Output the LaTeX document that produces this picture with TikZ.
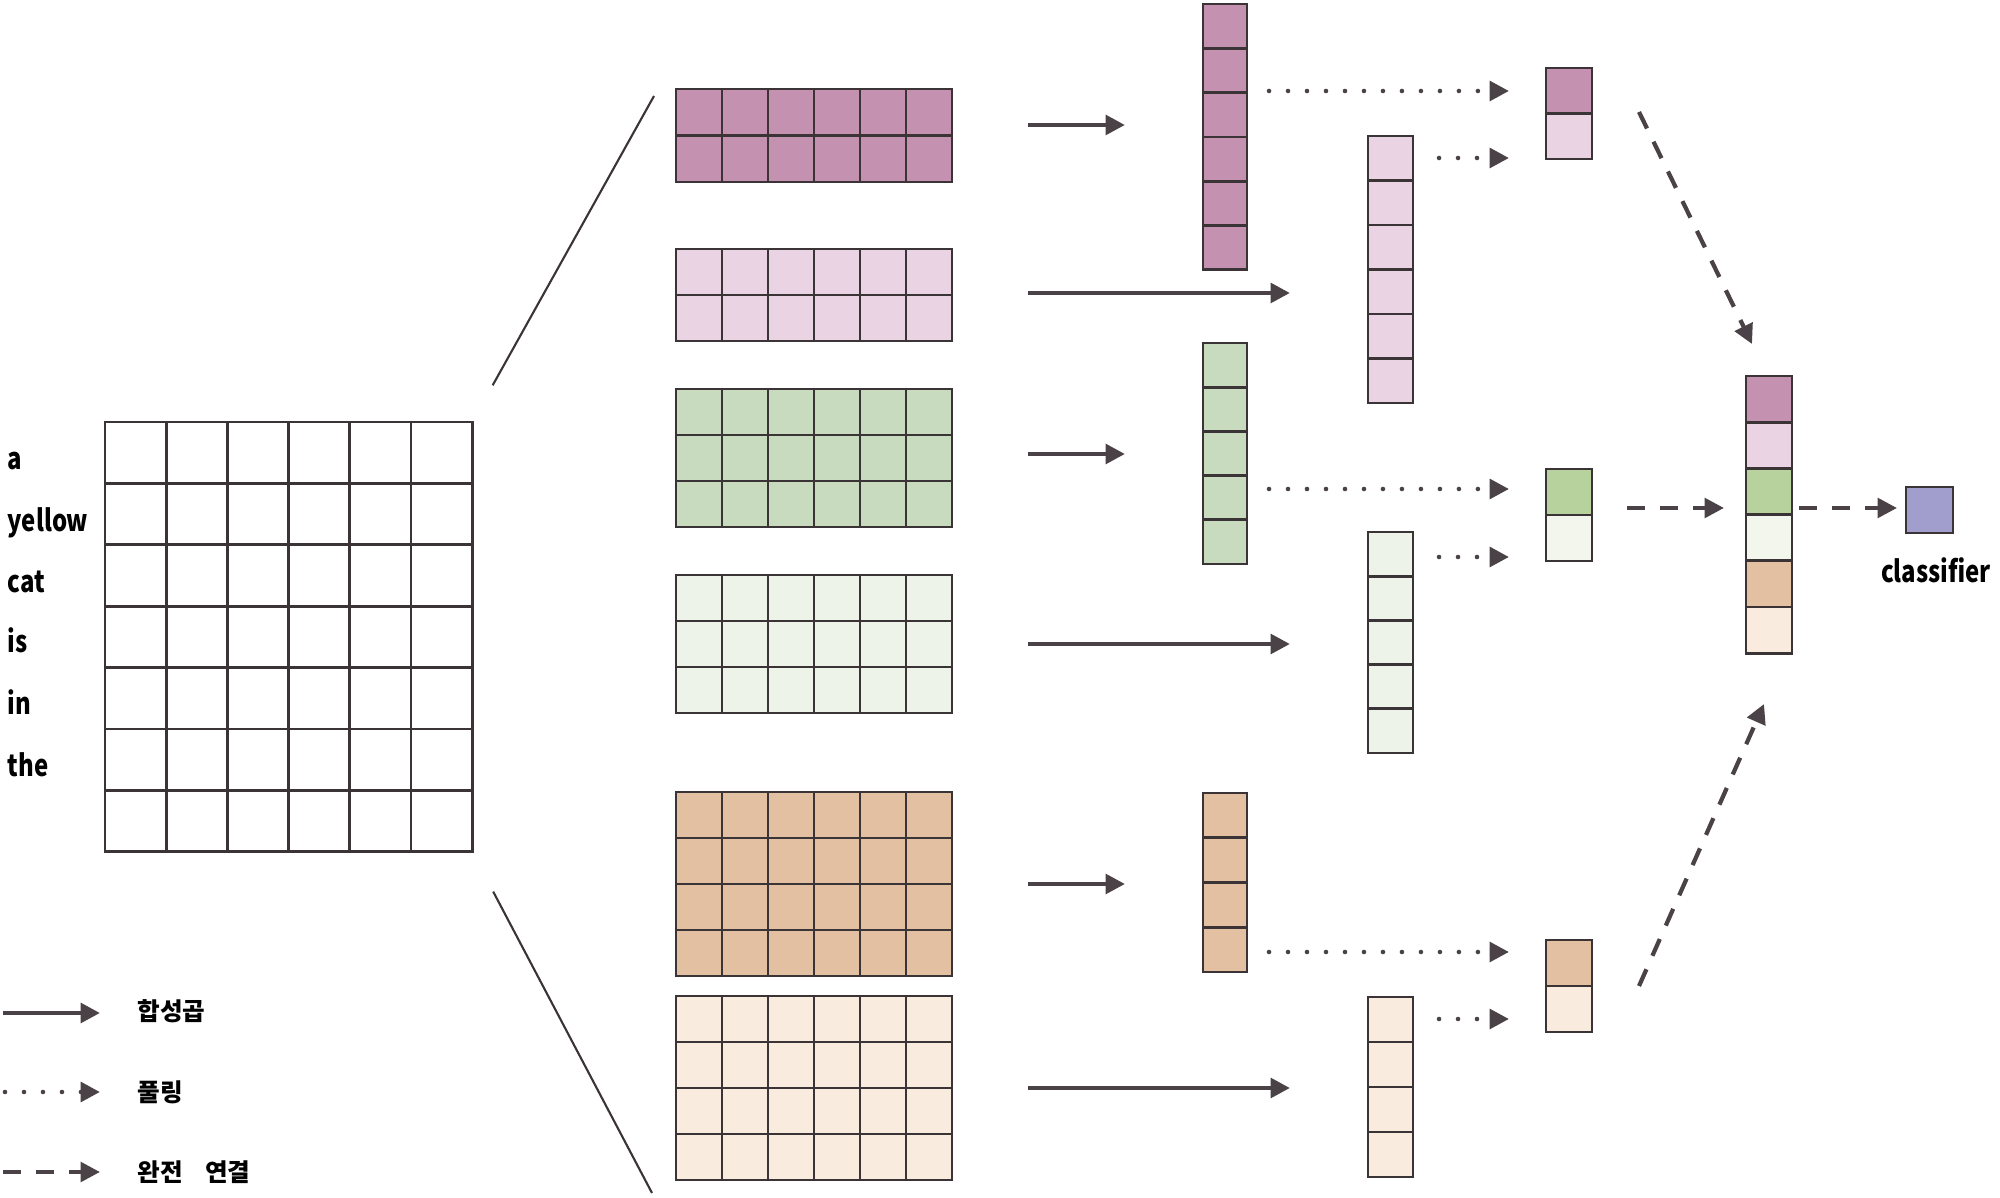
\documentclass[tikz,border=0pt]{standalone}
\usepackage{fontspec}
\setmainfont{Noto Sans CJK KR}
\newfontfamily\lblfont{Noto Sans CJK KR}[FakeStretch=0.8]
\usetikzlibrary{arrows.meta}
\definecolor{gridc}{HTML}{3A3437}
\definecolor{arrc}{HTML}{4A4246}
\definecolor{cPur}{HTML}{C491B1}
\definecolor{cPurL}{HTML}{EAD4E4}
\definecolor{cGrn}{HTML}{C9DBBF}
\definecolor{cGrnL}{HTML}{EDF3E8}
\definecolor{cTan}{HTML}{E4C0A2}
\definecolor{cPch}{HTML}{FAEBDF}
\definecolor{cGrnP}{HTML}{B7D29C}
\definecolor{cGrnPL}{HTML}{F3F6EC}
\definecolor{cCls}{HTML}{A19DCC}
\tikzset{
 blk/.style={draw=gridc, line width=0.75pt, inner sep=0pt, outer sep=0pt, rectangle},
 gline/.style={draw=gridc, line width=0.75pt},
 convarrow/.style={draw=arrc, line width=1.3pt, -{Triangle[length=5.5pt,width=5.5pt]}},
 convlink/.style={convarrow, shorten <=0.76cm, shorten >=0.78cm},
 poolarrow/.style={draw=arrc, line width=1.3pt, line cap=round, dash pattern=on 0pt off 5.4pt, -{Triangle[length=5.5pt,width=5.5pt]}},
 fcarrow/.style={draw=arrc, line width=1.2pt, dash pattern=on 5.2pt off 4.2pt, -{Triangle[length=5.5pt,width=5.5pt]}},
 word/.style={anchor=base west, inner sep=0pt, font=\lblfont\fontsize{8.5pt}{10pt}\selectfont\bfseries},
 legtext/.style={anchor=base west, inner sep=0pt, font=\fontsize{7pt}{8pt}\selectfont\bfseries},
 leader/.style={draw=gridc, line width=0.6pt},
}
\newcommand{\gblock}[8]{%
 \node[blk, fill=#8, minimum width=#4*#6*0.01cm, minimum height=#5*#7*0.01cm, anchor=north west] (#1) at (#2,#3) {};
 \pgfmathtruncatemacro{\gbc}{#4-1}%
 \pgfmathtruncatemacro{\gbr}{#5-1}%
 \ifnum\gbc>0 \foreach \i in {1,...,\gbc}{\draw[gline] (#2+\i*#6,#3) -- (#2+\i*#6,#3+#5*#7);}\fi
 \ifnum\gbr>0 \foreach \j in {1,...,\gbr}{\draw[gline] (#2,#3+\j*#7) -- (#2+#4*#6,#3+\j*#7);}\fi
}
\begin{document}
\begin{tikzpicture}[x=0.01cm, y=-0.01cm]
\useasboundingbox (0,0) rectangle (2000,1198);
% input matrix
\gblock{inp}{105}{422}{6}{7}{61.2}{61.4}{white}
\node[word] (w1) at (7,470) {a};
\node[word] (w2) at (7,532) {yellow};
\node[word] (w3) at (7,593) {cat};
\node[word] (w4) at (7,653) {is};
\node[word] (w5) at (7,715) {in};
\node[word] (w6) at (7,777) {the};
% leader lines
\coordinate (ltop) at (654,96);
\coordinate (lbot) at (652,1193);
\draw[leader, shorten <=0.42cm] (inp.north east) -- (ltop);
\draw[leader, shorten <=0.45cm] (inp.south east) -- (lbot);
% feature maps
\gblock{m1}{676}{89}{6}{2}{46}{46.5}{cPur}
\gblock{m2}{676}{249}{6}{2}{46}{46}{cPurL}
\gblock{m3}{676}{389}{6}{3}{46}{46}{cGrn}
\gblock{m4}{676}{575}{6}{3}{46}{46}{cGrnL}
\gblock{m5}{676}{792}{6}{4}{46}{46}{cTan}
\gblock{m6}{676}{996}{6}{4}{46}{46}{cPch}
% conv vectors
\gblock{v1}{1203}{4}{1}{6}{44}{44.3}{cPur}
\gblock{v2}{1368}{136}{1}{6}{45}{44.5}{cPurL}
\gblock{v3}{1203}{343}{1}{5}{44}{44.2}{cGrn}
\gblock{v4}{1368}{532}{1}{5}{45}{44.2}{cGrnL}
\gblock{v5}{1203}{793}{1}{4}{44}{44.75}{cTan}
\gblock{v6}{1368}{997}{1}{4}{45}{45}{cPch}
% conv arrows
\draw[convlink] ([yshift=0.105cm]m1.east) -- ([yshift=0.105cm]m1.east -| v1.west);
\draw[convlink] ([yshift=0.02cm]m2.east) -- ([yshift=0.02cm]m2.east -| v2.west);
\draw[convlink] ([yshift=0.04cm]m3.east) -- ([yshift=0.04cm]m3.east -| v3.west);
\draw[convlink] (m4.east) -- (m4.east -| v4.west);
\draw[convlink] (m5.east) -- (m5.east -| v5.west);
\draw[convlink] (m6.east) -- (m6.east -| v6.west);
% pooled vectors
\node[blk, fill=cPur, minimum width=0.46cm, minimum height=0.455cm, anchor=north west] (p1a) at (1546,68) {};
\node[blk, fill=cPurL, minimum width=0.46cm, minimum height=0.455cm, anchor=north west] (p1b) at (1546,113.5) {};
\node[blk, fill=cGrnP, minimum width=0.46cm, minimum height=0.46cm, anchor=north west] (p2a) at (1546,469) {};
\node[blk, fill=cGrnPL, minimum width=0.46cm, minimum height=0.46cm, anchor=north west] (p2b) at (1546,515) {};
\node[blk, fill=cTan, minimum width=0.46cm, minimum height=0.46cm, anchor=north west] (p3a) at (1546,940) {};
\node[blk, fill=cPch, minimum width=0.46cm, minimum height=0.46cm, anchor=north west] (p3b) at (1546,986) {};
% pooling arrows
\coordinate (d1) at (1509,91);
\coordinate (d2) at (1509,158);
\coordinate (d3) at (1509,489);
\coordinate (d4) at (1509,557);
\coordinate (d5) at (1509,952);
\coordinate (d6) at (1509,1019);
\draw[poolarrow, shorten <=0.22cm] (d1 -| v1.east) -- (d1);
\draw[poolarrow, shorten <=0.26cm] (d2 -| v2.east) -- (d2);
\draw[poolarrow, shorten <=0.22cm] (d3 -| v3.east) -- (d3);
\draw[poolarrow, shorten <=0.26cm] (d4 -| v4.east) -- (d4);
\draw[poolarrow, shorten <=0.22cm] (d5 -| v5.east) -- (d5);
\draw[poolarrow, shorten <=0.26cm] (d6 -| v6.east) -- (d6);
% concatenated vector
\foreach \k/\c in {0/cPur,1/cPurL,2/cGrnP,3/cGrnPL,4/cTan,5/cPch}
  \node[blk, fill=\c, minimum width=0.46cm, minimum height=0.462cm, anchor=north west] (cc\k) at (1746,376+\k*46.2) {};
% classifier
\node[blk, fill=cCls, minimum width=0.47cm, minimum height=0.46cm, anchor=north west] (cls) at (1906,487) {};
\node[word, anchor=base] (clslab) at (1936,583) {classifier};
% fully connected arrows
\coordinate (f1s) at (1639,112);
\coordinate (f1e) at (1752,344);
\coordinate (f4s) at (1639,986);
\coordinate (f4e) at (1764,704);
\coordinate (f2s) at (1627,508);
\coordinate (f2e) at (1724,508);
\coordinate (f3s) at (1799,508);
\coordinate (f3e) at (1897,508);
\draw[fcarrow] (f1s) -- (f1e);
\draw[fcarrow] (f4s) -- (f4e);
\draw[fcarrow] (f2s) -- (f2e);
\draw[fcarrow] (f3s) -- (f3e);
% legend
\coordinate (l1a) at (3,1013);
\coordinate (l1b) at (100,1013);
\coordinate (l2a) at (5,1092);
\coordinate (l2b) at (100,1092);
\coordinate (l3a) at (3,1172);
\coordinate (l3b) at (100,1172);
\draw[convarrow] (l1a) -- (l1b);
\draw[poolarrow] (l2a) -- (l2b);
\draw[fcarrow] (l3a) -- (l3b);
\node[legtext] (t1) at (137,1021) {합성곱};
\node[legtext] (t2) at (137,1101) {풀링};
\node[legtext] (t3) at (137,1181) {완전\hspace{0.9em}연결};
\end{tikzpicture}
\end{document}
